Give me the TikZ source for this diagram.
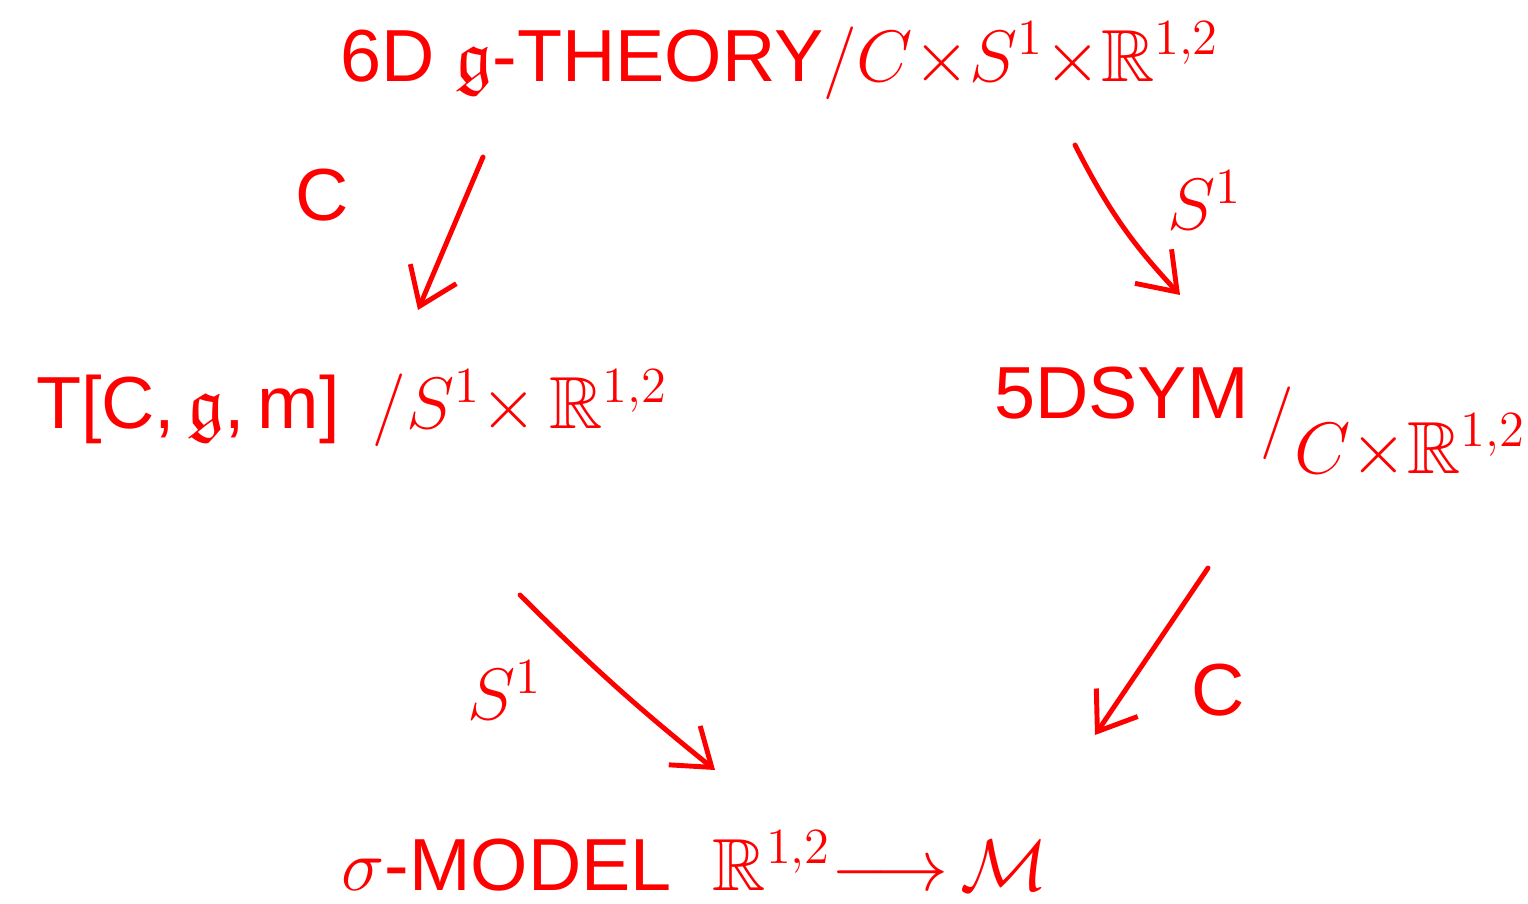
\documentclass[tikz,border=0pt]{standalone}
\usepackage{amssymb}
\usepackage{fontspec}
\setmainfont{Liberation Sans}
\usetikzlibrary{arrows.meta}
\definecolor{pen}{RGB}{255,0,0}
\tikzset{
  lbl/.style={text=pen, font=\fontsize{21}{25}\selectfont, inner sep=1pt},
  arr/.style={draw=pen, line width=1.4pt, line cap=round, -{Straight Barb[length=3.5mm, width=5mm, line width=1.4pt]}}
}
\begin{document}
\begin{tikzpicture}
  \useasboundingbox (0,0) rectangle (15.28,9.03);
  % Các nút chính
  \node[lbl] (six) at (7.8,8.42) {6D $\mathfrak{g}$-THEORY$\big/C{\times}S^{1}{\times}\mathbb{R}^{1,2}$};
  \node[lbl] (tcg) at (3.52,4.95) {T[C,\,$\mathfrak{g}$,\,m] \,$/S^{1}{\times}\,\mathbb{R}^{1,2}$};
  \node[lbl] (sym) at (12.6,4.8) {5DSYM\,\raisebox{-0.6ex}{$\Big/$}\raisebox{-1.4ex}{$C{\times}\mathbb{R}^{1,2}$}};
  \node[lbl] (sig) at (6.95,0.42) {$\sigma$-MODEL \ $\mathbb{R}^{1,2}{\longrightarrow}\,\mathcal{M}$};

  % Đầu mút các mũi tên
  \coordinate (a1) at (4.83,7.46); \coordinate (b1) at (4.18,5.93);
  \coordinate (a2) at (10.75,7.58); \coordinate (b2) at (11.8,6.08);
  \coordinate (a3) at (5.2,3.08); \coordinate (b3) at (7.15,1.33);
  \coordinate (a4) at (12.08,3.35); \coordinate (b4) at (10.95,1.68);

  % Các mũi tên
  \draw[arr] (a1) -- (b1);
  \draw[arr] (a2) to[bend right=8] (b2);
  \draw[arr] (a3) to[bend right=3] (b3);
  \draw[arr] (a4) -- (b4);

  % Nhãn của mũi tên
  \node[lbl] (c1) at (3.22,7.08) {C};
  \node[lbl] (s1) at (12.05,7.03) {$S^{1}$};
  \node[lbl] (s2) at (5.05,2.13) {$S^{1}$};
  \node[lbl] (c2) at (12.18,2.13) {C};
\end{tikzpicture}
\end{document}
